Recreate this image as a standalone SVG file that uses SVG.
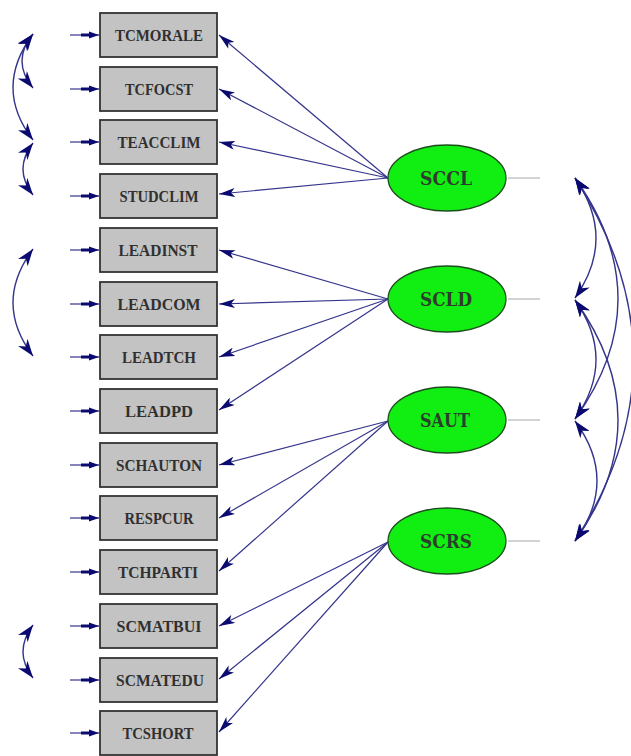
<svg xmlns="http://www.w3.org/2000/svg" width="631" height="756" viewBox="0 0 631 756">
<style>
.box{fill:#c3c3c3;stroke:#333;stroke-width:1.8}
.bt{font-family:"Liberation Serif",serif;font-weight:bold;font-size:16px;fill:#303030;text-anchor:middle}
.lat{fill:#11ee11;stroke:#1d4d1d;stroke-width:1.3}
.lt{font-family:"DejaVu Serif","Liberation Serif",serif;font-weight:bold;font-size:18px;fill:#2d3d2d;text-anchor:middle}
.ln{fill:none;stroke:#35358c;stroke-width:1.2}
.cv{fill:none;stroke:#35358c;stroke-width:1.4}
.gr{stroke:#c4c4c4;stroke-width:1.5}
</style>
<defs>
<marker id="ah" viewBox="0 0 16 9" refX="16" refY="4.5" markerWidth="16" markerHeight="9" markerUnits="userSpaceOnUse" orient="auto"><path d="M0,0 L16,4.5 L0,9 L4,4.5 z" fill="#0a0a70"/></marker>
<marker id="eh" viewBox="0 0 18 8" refX="18" refY="4" markerWidth="18" markerHeight="8" markerUnits="userSpaceOnUse" orient="auto"><path d="M0,2.5 L8,2.5 L8,0.5 L18,4 L8,7.5 L8,5.5 L0,5.5 z" fill="#0a0a70"/></marker>
<marker id="ch" viewBox="0 0 17 12" refX="17" refY="6" markerWidth="17" markerHeight="12" markerUnits="userSpaceOnUse" orient="auto-start-reverse"><path d="M0,0 L17,6 L0,12 L5,6 z" fill="#0a0a70"/></marker>
</defs>

<g id="connectors">
<line class="ln" x1="70" y1="35" x2="99" y2="35" marker-end="url(#eh)"/>
<line class="ln" x1="70" y1="89" x2="99" y2="89" marker-end="url(#eh)"/>
<line class="ln" x1="70" y1="142" x2="99" y2="142" marker-end="url(#eh)"/>
<line class="ln" x1="70" y1="196" x2="99" y2="196" marker-end="url(#eh)"/>
<line class="ln" x1="70" y1="250" x2="99" y2="250" marker-end="url(#eh)"/>
<line class="ln" x1="70" y1="304" x2="99" y2="304" marker-end="url(#eh)"/>
<line class="ln" x1="70" y1="357" x2="99" y2="357" marker-end="url(#eh)"/>
<line class="ln" x1="70" y1="411" x2="99" y2="411" marker-end="url(#eh)"/>
<line class="ln" x1="70" y1="465" x2="99" y2="465" marker-end="url(#eh)"/>
<line class="ln" x1="70" y1="518" x2="99" y2="518" marker-end="url(#eh)"/>
<line class="ln" x1="70" y1="572" x2="99" y2="572" marker-end="url(#eh)"/>
<line class="ln" x1="70" y1="626" x2="99" y2="626" marker-end="url(#eh)"/>
<line class="ln" x1="70" y1="680" x2="99" y2="680" marker-end="url(#eh)"/>
<line class="ln" x1="70" y1="733" x2="99" y2="733" marker-end="url(#eh)"/>
<line class="ln" x1="388" y1="178" x2="219" y2="35" marker-end="url(#ah)"/>
<line class="ln" x1="388" y1="178" x2="219" y2="89" marker-end="url(#ah)"/>
<line class="ln" x1="388" y1="178" x2="219" y2="142" marker-end="url(#ah)"/>
<line class="ln" x1="388" y1="178" x2="219" y2="194" marker-end="url(#ah)"/>
<line class="ln" x1="388" y1="299" x2="219" y2="250" marker-end="url(#ah)"/>
<line class="ln" x1="388" y1="299" x2="219" y2="304" marker-end="url(#ah)"/>
<line class="ln" x1="388" y1="299" x2="219" y2="357" marker-end="url(#ah)"/>
<line class="ln" x1="388" y1="299" x2="219" y2="410" marker-end="url(#ah)"/>
<line class="ln" x1="388" y1="421" x2="219" y2="465" marker-end="url(#ah)"/>
<line class="ln" x1="388" y1="421" x2="219" y2="518" marker-end="url(#ah)"/>
<line class="ln" x1="388" y1="421" x2="219" y2="571" marker-end="url(#ah)"/>
<line class="ln" x1="388" y1="542" x2="219" y2="626" marker-end="url(#ah)"/>
<line class="ln" x1="388" y1="542" x2="219" y2="679" marker-end="url(#ah)"/>
<line class="ln" x1="388" y1="542" x2="219" y2="732" marker-end="url(#ah)"/>
<line class="gr" x1="508" y1="178" x2="540" y2="178"/>
<line class="gr" x1="508" y1="299" x2="540" y2="299"/>
<line class="gr" x1="508" y1="420" x2="540" y2="420"/>
<line class="gr" x1="508" y1="541" x2="540" y2="541"/>
<path class="cv" d="M33,34 Q11,61 33,88" marker-start="url(#ch)" marker-end="url(#ch)"/>
<path class="cv" d="M33,34 Q-7,88 33,140" marker-start="url(#ch)" marker-end="url(#ch)"/>
<path class="cv" d="M33,143 Q13,169 33,195" marker-start="url(#ch)" marker-end="url(#ch)"/>
<path class="cv" d="M33,249 Q-7,303 33,356" marker-start="url(#ch)" marker-end="url(#ch)"/>
<path class="cv" d="M33,625 Q13,652 33,678" marker-start="url(#ch)" marker-end="url(#ch)"/>
<path class="cv" d="M575,178 Q617,238.5 575,298" marker-start="url(#ch)" marker-end="url(#ch)"/>
<path class="cv" d="M575,178 Q661,299 575,419" marker-start="url(#ch)" marker-end="url(#ch)"/>
<path class="cv" d="M575,178 Q692,359.5 575,541" marker-start="url(#ch)" marker-end="url(#ch)"/>
<path class="cv" d="M575,300 Q617,359.5 575,419" marker-start="url(#ch)" marker-end="url(#ch)"/>
<path class="cv" d="M575,300 Q661,420 575,541" marker-start="url(#ch)" marker-end="url(#ch)"/>
<path class="cv" d="M575,421 Q619,480.5 575,541" marker-start="url(#ch)" marker-end="url(#ch)"/>
</g>

<g id="TCMORALE"><rect class="box" x="100" y="13" width="117" height="44"/><text class="bt" x="159" y="41" textLength="88" lengthAdjust="spacingAndGlyphs">TCMORALE</text></g>
<g id="TCFOCST"><rect class="box" x="100" y="67" width="117" height="44"/><text class="bt" x="159" y="95" textLength="68" lengthAdjust="spacingAndGlyphs">TCFOCST</text></g>
<g id="TEACCLIM"><rect class="box" x="100" y="120" width="117" height="44"/><text class="bt" x="159" y="148" textLength="83" lengthAdjust="spacingAndGlyphs">TEACCLIM</text></g>
<g id="STUDCLIM"><rect class="box" x="100" y="174" width="117" height="44"/><text class="bt" x="159" y="202" textLength="79" lengthAdjust="spacingAndGlyphs">STUDCLIM</text></g>
<g id="LEADINST"><rect class="box" x="100" y="228" width="117" height="44"/><text class="bt" x="158" y="256" textLength="79" lengthAdjust="spacingAndGlyphs">LEADINST</text></g>
<g id="LEADCOM"><rect class="box" x="100" y="282" width="117" height="44"/><text class="bt" x="159" y="310" textLength="83" lengthAdjust="spacingAndGlyphs">LEADCOM</text></g>
<g id="LEADTCH"><rect class="box" x="100" y="335" width="117" height="44"/><text class="bt" x="159" y="363" textLength="74" lengthAdjust="spacingAndGlyphs">LEADTCH</text></g>
<g id="LEADPD"><rect class="box" x="100" y="389" width="117" height="44"/><text class="bt" x="159" y="417" textLength="68" lengthAdjust="spacingAndGlyphs">LEADPD</text></g>
<g id="SCHAUTON"><rect class="box" x="100" y="443" width="117" height="44"/><text class="bt" x="159" y="471" textLength="86" lengthAdjust="spacingAndGlyphs">SCHAUTON</text></g>
<g id="RESPCUR"><rect class="box" x="100" y="496" width="117" height="44"/><text class="bt" x="159" y="524" textLength="69" lengthAdjust="spacingAndGlyphs">RESPCUR</text></g>
<g id="TCHPARTI"><rect class="box" x="100" y="550" width="117" height="44"/><text class="bt" x="158" y="578" textLength="80" lengthAdjust="spacingAndGlyphs">TCHPARTI</text></g>
<g id="SCMATBUI"><rect class="box" x="100" y="604" width="117" height="44"/><text class="bt" x="159" y="632" textLength="85" lengthAdjust="spacingAndGlyphs">SCMATBUI</text></g>
<g id="SCMATEDU"><rect class="box" x="100" y="658" width="117" height="44"/><text class="bt" x="160" y="686" textLength="88" lengthAdjust="spacingAndGlyphs">SCMATEDU</text></g>
<g id="TCSHORT"><rect class="box" x="100" y="711" width="117" height="44"/><text class="bt" x="158" y="739" textLength="71" lengthAdjust="spacingAndGlyphs">TCSHORT</text></g>

<g id="SCCL"><ellipse class="lat" cx="447" cy="178" rx="59" ry="33"/><text class="lt" x="446" y="185" textLength="52" lengthAdjust="spacingAndGlyphs">SCCL</text></g>
<g id="SCLD"><ellipse class="lat" cx="447" cy="299" rx="59" ry="33"/><text class="lt" x="446" y="306" textLength="52" lengthAdjust="spacingAndGlyphs">SCLD</text></g>
<g id="SAUT"><ellipse class="lat" cx="447" cy="420" rx="59" ry="33"/><text class="lt" x="445" y="427" textLength="50" lengthAdjust="spacingAndGlyphs">SAUT</text></g>
<g id="SCRS"><ellipse class="lat" cx="447" cy="541" rx="59" ry="33"/><text class="lt" x="446" y="548" textLength="52" lengthAdjust="spacingAndGlyphs">SCRS</text></g>
</svg>
